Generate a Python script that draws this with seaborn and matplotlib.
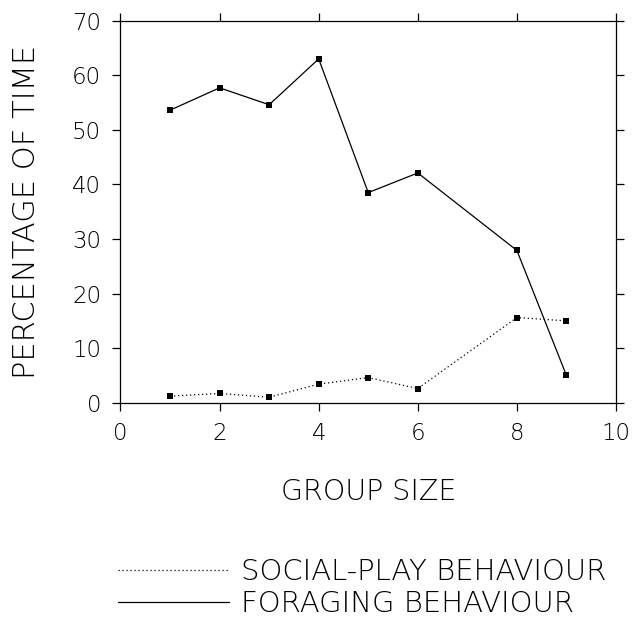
import matplotlib
matplotlib.use("Agg")
import matplotlib.pyplot as plt
from matplotlib.lines import Line2D
import seaborn as sns
import pandas as pd

# Percentage of time spent in each behaviour, by group size
group_size = [1, 2, 3, 4, 5, 6, 8, 9]
foraging = [53.6, 57.7, 54.6, 63.0, 38.5, 42.1, 27.9, 5.0]
social_play = [1.2, 1.7, 1.0, 3.4, 4.6, 2.6, 15.6, 15.0]

social_label = "SOCIAL-PLAY BEHAVIOUR"
foraging_label = "FORAGING BEHAVIOUR"
x_ticks = [0, 2, 4, 6, 8, 10]
y_ticks = [0, 10, 20, 30, 40, 50, 60, 70]

df = pd.DataFrame({
    "group": group_size * 2,
    "pct": social_play + foraging,
    "behaviour": [social_label] * len(group_size) + [foraging_label] * len(group_size),
})

sns.set_theme(style="ticks")
plt.rcParams["font.family"] = ["DejaVu Sans"]
plt.rcParams["font.weight"] = "light"
for key in ("text.color", "axes.labelcolor", "xtick.color", "ytick.color", "axes.edgecolor"):
    plt.rcParams[key] = "black"

W, H = 638, 619
left, right, top, bottom = 120.5, 616, 20.7, 402.7
fig = plt.figure(figsize=(W / 100, H / 100), dpi=100)
ax = fig.add_axes([left / W, 1 - bottom / H, (right - left) / W, (bottom - top) / H])

dot_style = (1, 2.2)
sns.lineplot(
    data=df, x="group", y="pct", hue="behaviour", style="behaviour",
    palette={social_label: "black", foraging_label: "black"},
    dashes={social_label: dot_style, foraging_label: ""},
    markers={social_label: "s", foraging_label: "s"},
    markersize=5, markeredgewidth=0, linewidth=0.9,
    legend=False, ax=ax,
)

ax.set_xlim(0, 10)
ax.set_ylim(0, 70)
ax.set_xticks(x_ticks)
ax.set_yticks(y_ticks)
ax.tick_params(direction="out", top=True, right=True, length=6, width=0.9,
               labelsize=16.5, pad=8, colors="black")
for spine in ax.spines.values():
    spine.set_linewidth(0.9)

ax.set_xlabel("GROUP SIZE", fontsize=20.5, fontweight="light", va="center")
ax.set_ylabel("PERCENTAGE OF TIME", fontsize=22, fontweight="light", va="center")
ax.xaxis.set_label_coords(0.5, (bottom - 492) / (bottom - top))
ax.yaxis.set_label_coords((27 - left) / (right - left), 0.5)

handles = [
    Line2D([], [], color="black", linewidth=0.9, dashes=dot_style),
    Line2D([], [], color="black", linewidth=0.9),
]
fig.legend(handles, [social_label, foraging_label], loc="upper left",
           bbox_to_anchor=(118 / W, 1 - 558 / H), frameon=False,
           handlelength=3.8, handletextpad=0.42, labelspacing=0.14,
           borderpad=0, borderaxespad=0, prop={"weight": "light", "size": 21})

fig.savefig("out.png", dpi=100)
